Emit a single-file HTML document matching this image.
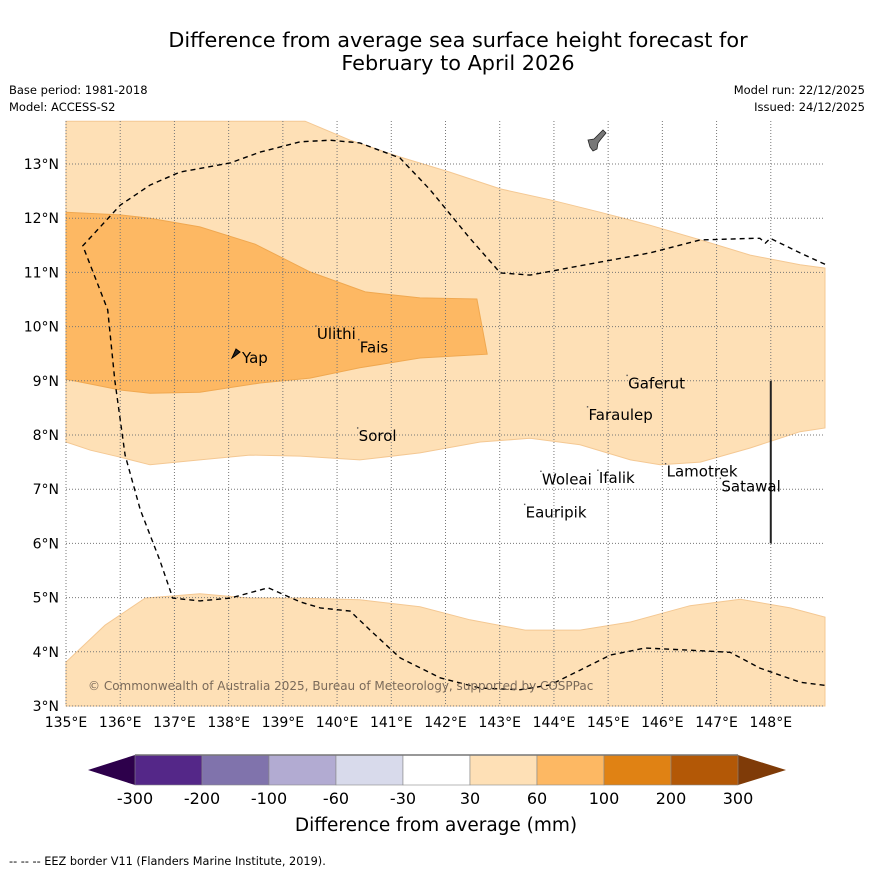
<!DOCTYPE html>
<html><head><meta charset="utf-8"><style>
body{margin:0;background:#fff;}
svg{display:block;font-family:"DejaVu Sans","Liberation Sans",sans-serif;}
</style></head><body>
<svg id="chart" width="873" height="873" viewBox="0 0 873 873">
<text x="458" y="47" text-anchor="middle" font-size="20.8">Difference from average sea surface height forecast for</text>
<text x="458" y="70" text-anchor="middle" font-size="20.8">February to April 2026</text>
<text x="9" y="94" font-size="11.5">Base period: 1981-2018</text>
<text x="9" y="111" font-size="11.5">Model: ACCESS-S2</text>
<text x="865" y="94" font-size="11.5" text-anchor="end">Model run: 22/12/2025</text>
<text x="865" y="111" font-size="11.5" text-anchor="end">Issued: 24/12/2025</text>
<g id="map"></g>
<g id="cbar"></g>
<text x="9" y="865" font-size="11.3">--  --  -- EEZ border V11 (Flanders Marine Institute, 2019).</text>
</svg>
<script>
const lonTicks=[135,136,137,138,139,140,141,142,143,144,145,146,147,148];
const latTicks=[3,4,5,6,7,8,9,10,11,12,13];
const band30Upper=[[135,13.79],[139.41,13.79],[140.24,13.44],[141.16,13.13],[142.08,12.85],[143.01,12.54],[143.93,12.34],[144.85,12.11],[145.77,11.87],[146.7,11.6],[147.62,11.32],[148.54,11.14],[149,11.08]];
const band30Lower=[[149,8.13],[148.54,8.06],[147.62,7.76],[146.7,7.5],[145.96,7.45],[145.41,7.54],[144.48,7.82],[143.56,7.94],[142.64,7.87],[141.53,7.67],[140.42,7.54],[139.32,7.61],[138.39,7.63],[137.47,7.54],[136.55,7.45],[136.0,7.59],[135.45,7.72],[135,7.87]];
const band60=[[135,12.11],[136.0,12.06],[136.55,12.0],[137.47,11.84],[138.49,11.52],[139.5,11.01],[140.52,10.64],[141.53,10.53],[142.58,10.51],[142.77,9.49],[141.53,9.42],[140.42,9.24],[139.5,9.05],[138.58,8.96],[137.47,8.79],[136.55,8.77],[136.0,8.83],[135,9.03]];
const bandSouth=[[135,3.81],[135.72,4.49],[136.46,4.99],[137.47,5.07],[138.39,4.99],[139.32,4.99],[140.42,4.96],[141.53,4.83],[142.45,4.59],[143.47,4.4],[144.48,4.4],[145.41,4.55],[146.51,4.85],[147.44,4.97],[148.36,4.81],[149,4.64],[149,3.0],[135,3.0]];
const eez=[[149,11.15],[148.54,11.36],[147.99,11.63],[147.9,11.54],[147.8,11.63],[147.71,11.63],[146.7,11.6],[145.77,11.36],[144.85,11.19],[143.56,10.95],[143.01,10.99],[142.45,11.63],[141.72,12.52],[141.16,13.11],[140.42,13.39],[139.87,13.44],[139.32,13.41],[138.58,13.22],[138.03,13.02],[137.1,12.85],[136.55,12.61],[136.0,12.24],[135.31,11.49],[135.77,10.31],[135.9,9.01],[136.09,7.63],[136.37,6.62],[136.73,5.69],[136.97,4.99],[137.47,4.94],[138.03,4.99],[138.73,5.18],[139.32,4.92],[139.69,4.81],[140.24,4.75],[140.61,4.4],[141.16,3.89],[141.9,3.52],[142.64,3.33],[143.38,3.3],[143.93,3.39],[144.48,3.66],[145.04,3.94],[145.68,4.07],[146.51,4.03],[147.25,3.99],[147.8,3.7],[148.54,3.44],[149,3.38]];
const islandNames=["Ulithi","Fais","Gaferut","Faraulep","Sorol","Woleai","Ifalik","Eauripik","Lamotrek","Satawal"];
const islandLon=[139.61,140.4,145.35,144.62,140.38,143.76,144.81,143.46,146.06,147.07];
const islandLat=[10.01,9.76,9.1,8.52,8.13,7.33,7.35,6.72,7.47,7.2];
const cbarLabels=["-300","-200","-100","-60","-30","30","60","100","200","300"];
const cbarColors=["#542788","#8073ac","#b2abd2","#d8daeb","#ffffff","#fee0b6","#fdb863","#e08214","#b35806"];
const NS="http://www.w3.org/2000/svg";
const X0=66,X1=825,Y0=121,Y1=706;
const xs=lon=>X0+(lon-135)*(X1-X0)/14;
const ys=lat=>706-(lat-3)*54.2;
function el(tag,attrs,parent){const e=document.createElementNS(NS,tag);for(const k in attrs)e.setAttribute(k,attrs[k]);parent.appendChild(e);return e;}
const map=document.getElementById('map');
const pts=a=>a.map(p=>xs(p[0]).toFixed(1)+','+ys(p[1]).toFixed(1)).join(' ');
let p=el('polygon',{points:pts(band30Upper.concat(band30Lower)),fill:'#fee0b6',stroke:'#f4c893','stroke-width':1},map);


p=el('polygon',{points:pts(band60),fill:'#fdb863',stroke:'#f0a850','stroke-width':1},map);


p=el('polygon',{points:pts(bandSouth),fill:'#fee0b6',stroke:'#f4c893','stroke-width':1},map);


lonTicks.forEach(l=>{
  const x=xs(l);
  const g=el('line',{x1:x,x2:x,y1:Y0,y2:Y1,stroke:'#777','stroke-width':1,'stroke-dasharray':'1,2'},map);
  
  
  const t=el('text',{x:x,y:727,'font-size':14,'text-anchor':'middle'},map);t.textContent=l+'°E';
  
  
});
latTicks.forEach(l=>{
  const y=ys(l);
  const g=el('line',{x1:X0,x2:X1,y1:y,y2:y,stroke:'#777','stroke-width':1,'stroke-dasharray':'1,2'},map);
  
  
  const t=el('text',{x:59,y:y+5,'font-size':14,'text-anchor':'end'},map);t.textContent=l+'°N';
  
  
});
p=el('polyline',{points:pts(eez),fill:'none',stroke:'#000','stroke-width':1.4,'stroke-dasharray':'5,4'},map);


p=el('line',{x1:xs(148),x2:xs(148),y1:ys(9),y2:ys(6),stroke:'#222','stroke-width':2},map);


p=el('path',{d:'M588,140 L594,139 L600,133 L603,130 L606,133 L601,139 L598,143 L597,149 L593,151 L590,147 Z',fill:'#777',stroke:'#222','stroke-width':0.8},map);


p=el('path',{d:'M232,358 L236,349 L240,352 L235,356 Z',fill:'#222',stroke:'#000','stroke-width':1},map);


let t=el('text',{x:242,y:363,'font-size':15},map);t.textContent='Yap';


islandNames.forEach((n,i)=>{
  const x=xs(islandLon[i]),y=ys(islandLat[i]);
  const d=el('rect',{x:x-0.7,y:y-0.7,width:1.4,height:1.4,fill:'#555'},map);
  
  
  const tt=el('text',{x:x+1,y:y+13,'font-size':15},map);tt.textContent=n;
  
  
});
t=el('text',{x:88,y:690,'font-size':12,fill:'#7a6a5a'},map);t.textContent='© Commonwealth of Australia 2025, Bureau of Meteorology, supported by COSPPac';


const cb=document.getElementById('cbar');
const CX0=135,CX1=738,CY0=755,CY1=785;
const cw=(CX1-CX0)/cbarColors.length;
p=el('polygon',{points:`88,770 ${CX0},${CY0} ${CX0},${CY1}`,fill:'#2d004b'},cb);


p=el('polygon',{points:`786,770 ${CX1},${CY0} ${CX1},${CY1}`,fill:'#7f3b08'},cb);


cbarColors.forEach((c,i)=>{
  const r=el('rect',{x:CX0+i*cw,y:CY0,width:cw,height:CY1-CY0,fill:c,stroke:'#888','stroke-width':0.6},cb);
  
  
});
el('line',{x1:CX0,x2:CX1,y1:CY0,y2:CY0,stroke:'#777','stroke-width':1.5},cb);
cbarLabels.forEach((l,i)=>{
  const tt=el('text',{x:CX0+i*cw,y:804,'font-size':16,'text-anchor':'middle'},cb);tt.textContent=l;
  
  
});
t=el('text',{x:436,y:831,'font-size':18.5,'text-anchor':'middle'},cb);t.textContent='Difference from average (mm)';


</script>
</body></html>
